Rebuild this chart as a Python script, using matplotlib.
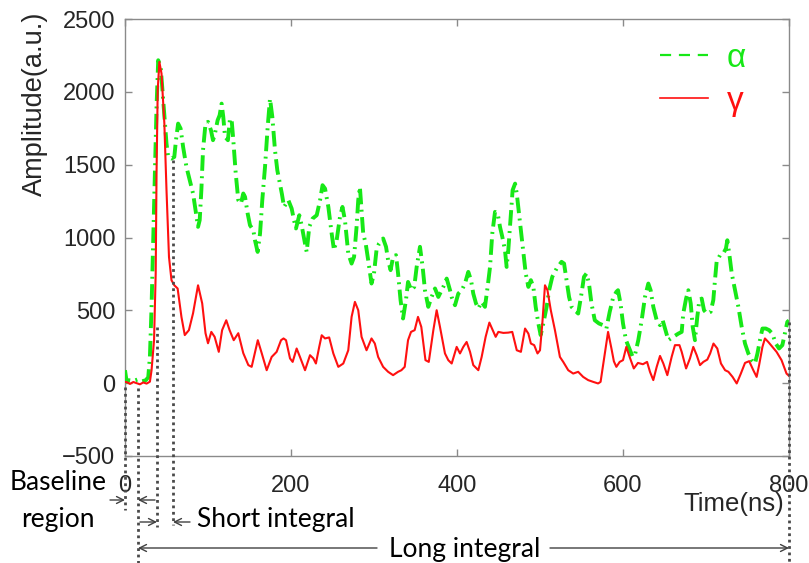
import matplotlib
matplotlib.use("Agg")
import matplotlib.pyplot as plt
from matplotlib.lines import Line2D

# ---------------- data ----------------
gamma_t = [0, 3, 6, 10, 14, 18, 22, 26, 30, 32, 35, 37, 38, 39.4, 41.4, 44, 47.4, 50, 53, 56,
           59.4, 63.4, 68, 72, 77, 82, 88, 93, 97, 100, 104, 108, 113, 117, 122, 126, 131, 136.5, 142.5, 148.6,
           152.6, 160, 164.7, 170.7, 176.7, 182.7, 188, 191, 194, 198.8, 202, 206.8, 210.8, 216.9, 222.9, 226.9, 230, 234, 237, 241,
           246, 251, 257, 263, 269, 273, 277, 281, 285, 291, 297, 301, 305, 311, 317, 323, 329, 333, 337, 341,
           344.6, 349, 353, 357, 362, 366, 371.5, 375.5, 379.5, 385.5, 389.5, 393.6, 399.6, 403.6, 407.6, 411.6, 415.7, 419.6, 425.7, 429.7,
           434.5, 439, 443, 446.6, 449.8, 455.8, 461.8, 466.6, 472, 477, 482, 486, 489, 493, 497, 500, 502.8, 506, 509, 513,
           518, 524, 528, 534, 540, 546, 552, 558, 564, 570, 573, 577.5, 582, 586, 589, 592, 596, 600, 604, 608,
           613, 618, 624, 629, 632.5, 636.5, 640.6, 644.6, 648.6, 653.4, 658.6, 662.6, 668, 670.7, 676, 680.7, 684.7, 688.8, 692.8, 696.8,
           701.6, 705, 709, 713.6, 718, 723, 727, 732, 737, 742, 747, 752, 757, 761, 764, 768, 771, 775, 780, 785,
           791, 797, 800]
gamma_v = [9, 5, -5, 8, 0, -8, 5, -3, 10, 89, 295, 755, 1440, 2010, 2205, 2125, 1783, 1325, 866, 707,
           672, 650, 455, 330, 364, 480, 672, 548, 343, 274, 352, 318, 215, 364, 432, 364, 295, 343, 206, 124,
           112, 295, 206, 89, 180, 215, 295, 307, 295, 170, 146, 238, 180, 89, 192, 170, 135, 249, 329, 307,
           314, 204, 112, 135, 226, 455, 558, 501, 318, 226, 307, 272, 180, 112, 78, 55, 78, 89, 112, 295,
           352, 364, 455, 386, 158, 146, 364, 501, 386, 204, 158, 135, 249, 204, 249, 283, 215, 124, 89, 180,
           318, 416, 364, 318, 352, 345, 347, 352, 226, 215, 375, 340, 272, 261, 204, 226, 410, 672, 638, 501,
           364, 180, 146, 89, 66, 78, 43, 21, 9, -2, 9, 180, 352, 240, 150, 112, 146, 158, 249, 180,
           101, 139, 130, 146, 78, 21, 112, 187, 135, 55, 180, 261, 261, 215, 101, 170, 249, 192, 124, 146,
           162, 204, 272, 238, 135, 89, 78, 43, -2, 66, 139, 151, 89, 43, 124, 249, 307, 283, 249, 215,
           158, 66, 50]

alpha_t = [0, 2, 5, 10, 15, 20, 25, 28, 30, 32, 34, 36, 38, 40, 43, 46, 48, 50, 52, 56,
           59.4, 61.4, 64, 67, 70, 74, 78, 82, 85, 88, 90, 92, 94, 97, 100, 103.6, 106, 108, 111.6, 114,
           116.4, 118.4, 120.5, 124, 126.5, 128.5, 130.5, 133.4, 136.5, 139.7, 142.5, 144.6, 147.8, 150.6, 154.6, 156.6, 159.8, 162.7, 165.4, 168.7,
           171.9, 174.7, 177.5, 180.7, 183.5, 186.7, 189, 191.6, 196.8, 200.8, 203.6, 206, 210, 212.8, 216.9, 218.9, 222, 226, 231, 235,
           238, 241, 245, 249, 251.8, 255, 259, 262, 265, 269, 273, 276, 279, 281, 283, 285, 287, 290, 293, 297,
           300, 303, 306, 311, 314.5, 317, 320, 323, 326.5, 329, 332, 335, 338.5, 341, 345, 348.5, 351.4, 355.4, 358.6, 361.4,
           365.4, 369.4, 373.5, 377.5, 383.5, 387.6, 391.6, 393.5, 397.6, 401.6, 405.7, 409.6, 413.6, 416.9, 419.6, 422.9, 425.7, 429.7, 433.7, 436.9,
           439.8, 442.5, 445.8, 449, 451.8, 454.6, 457.8, 459.8, 461.8, 464.7, 467, 470, 472, 474.7, 477, 480, 482.8, 486, 489, 492,
           494.8, 498, 500.8, 504, 508, 511, 514.8, 520, 526, 529, 532, 535, 538, 542, 546, 550, 553, 556, 559, 562,
           566, 571, 576, 580, 584, 588, 592, 594, 597, 600, 603.6, 607.6, 611.7, 614.8, 618.4, 622.5, 626.5, 630.5, 633.3, 636.5,
           640.6, 644.6, 647.8, 650.6, 654.6, 660.6, 666.6, 670.7, 672.6, 676, 678.7, 681.6, 684, 686.7, 689.5, 692, 694.8, 697.6, 700.8, 705.6,
           708.8, 710.8, 712.8, 716.9, 720.8, 724, 725.7, 728, 731, 735, 739, 743, 747, 751, 755, 759, 762, 765, 768, 772,
           776, 780, 784, 788, 792, 795, 798, 800]
alpha_v = [89, 10, 20, 15, 25, 12, 20, 40, 180, 524, 981, 1440, 1897, 2217, 2170, 1942, 1782, 1645, 1553, 1542,
           1553, 1668, 1782, 1748, 1622, 1485, 1393, 1302, 1187, 1073, 1119, 1325, 1600, 1782, 1794, 1736, 1668, 1702, 1805, 1839,
           1919, 1828, 1691, 1668, 1817, 1805, 1668, 1440, 1256, 1233, 1302, 1279, 1164, 1084, 1050, 981, 901, 1027, 1256, 1485,
           1759, 1953, 1828, 1600, 1462, 1370, 1300, 1210, 1256, 1199, 1119, 1062, 1153, 1084, 958, 901, 1073, 1130, 1153, 1256,
           1359, 1336, 1210, 1027, 913, 981, 1141, 1210, 1119, 890, 821, 867, 1073, 1256, 1347, 1187, 1027, 958, 844, 684,
           753, 913, 958, 993, 936, 844, 776, 867, 879, 753, 570, 444, 570, 695, 638, 661, 798, 936, 798, 638,
           524, 592, 650, 592, 661, 718, 638, 592, 535, 615, 638, 684, 764, 707, 615, 547, 513, 558, 524, 661,
           798, 1027, 1176, 1164, 1073, 1004, 913, 798, 913, 1141, 1325, 1370, 1302, 1164, 1050, 890, 753, 661, 707, 661,
           524, 410, 330, 410, 524, 638, 730, 787, 833, 821, 707, 592, 524, 501, 478, 615, 730, 753, 684, 547,
           432, 410, 398, 375, 490, 585, 627, 638, 547, 410, 295, 238, 180, 204, 295, 432, 592, 684, 638, 524,
           432, 398, 432, 375, 295, 318, 340, 352, 478, 581, 638, 547, 386, 295, 455, 570, 581, 501, 478, 490,
           570, 707, 833, 879, 890, 924, 981, 890, 753, 638, 524, 386, 272, 204, 158, 135, 204, 295, 375, 375,
           364, 340, 272, 238, 261, 340, 421, 430]

x_ticks = [0, 200, 400, 600, 800]
y_ticks = [-500, 0, 500, 1000, 1500, 2000, 2500]

# integration-window markers (time in ns, top of dotted line, bottom of dotted line)
marker_t = [0, 15.7, 39, 58, 800]
marker_top = [-27, -35, 384, 1530, 420]
marker_bottom = [-872, -1235, -988, -975, -1235]

# ---------------- figure ----------------
W, H = 809, 563
fig = plt.figure(figsize=(W / 100, H / 100), dpi=100)
ax = fig.add_axes([125 / W, 1 - 456 / H, (789 - 125) / W, (456 - 19) / H])

green = '#17e817'
red = '#ff1010'
frame = '#8a8a8a'
tickfont = 'Liberation Sans'
annfont = 'Lato'

ax.plot(alpha_t, alpha_v, color=green, lw=2.8, linestyle=(0, (4.0, 1.4, 0.5, 1.4)),
        dash_capstyle='butt', zorder=3)
ax.plot(gamma_t, gamma_v, color=red, lw=1.5, zorder=4)

for t, top, bot in zip(marker_t, marker_top, marker_bottom):
    ax.plot([t, t], [top, bot], color='#4a4a4a', lw=2.0, linestyle=(0, (1, 1.3)),
            clip_on=False, zorder=5)

ax.set_xlim(0, 800)
ax.set_ylim(-500, 2500)
ax.set_xticks(x_ticks)
ax.set_yticks(y_ticks)
ax.tick_params(direction='in', length=5, width=1, color=frame, top=True, right=True,
               labelsize=17, labelcolor='#262626')
ax.tick_params(axis='x', pad=14)
ax.tick_params(axis='y', pad=7)
for lab in ax.get_xticklabels() + ax.get_yticklabels():
    lab.set_fontfamily(tickfont)
for s in ax.spines.values():
    s.set_color(frame)
    s.set_linewidth(1.0)

ax.set_ylabel('Amplitude(a.u.)', fontsize=19.5, family=tickfont, color='#262626')
ax.yaxis.set_label_coords(-0.116, 0.805)

def fx(px):
    return px / W

def fy(py):
    return 1 - py / H

fig.text(fx(784), fy(504), 'Time(ns)', ha='right', va='center', fontsize=18.5,
         family=tickfont, color='#262626')

# legend
h_alpha = Line2D([], [], color=green, lw=1.6, linestyle=(0, (5, 3.5)))
h_gamma = Line2D([], [], color=red, lw=1.2)
leg = ax.legend([h_alpha, h_gamma], ['α', 'γ'], loc='upper left',
                bbox_to_anchor=(fx(630), fy(13)), bbox_transform=fig.transFigure,
                frameon=False, handlelength=1.45, handletextpad=0.55, labelspacing=0.35,
                prop={'family': tickfont, 'size': 24})
for txt, c in zip(leg.get_texts(), [green, red]):
    txt.set_color(c)

# annotations
fig.text(fx(10), fy(482), 'Baseline', ha='left', va='center', fontsize=19, family=annfont)
fig.text(fx(21), fy(519), 'region', ha='left', va='center', fontsize=19, family=annfont)
fig.text(fx(197), fy(520), 'Short integral', ha='left', va='center', fontsize=19, family=annfont)
fig.text(fx(389), fy(550), 'Long integral', ha='left', va='center', fontsize=19, family=annfont)

arrows = [((110, 500), (125, 500)), ((155, 500), (138, 500)),
          ((140, 522), (157, 522)), ((190, 522), (173, 522)),
          ((377, 548), (138, 548)), ((550, 548), (789, 548))]
for (x0, y0), (x1, y1) in arrows:
    fig.add_artist(matplotlib.patches.FancyArrowPatch(
        (fx(x0), fy(y0)), (fx(x1), fy(y1)), transform=fig.transFigure,
        arrowstyle='->,head_length=5,head_width=2.5', color='#404040', lw=1.0,
        shrinkA=0, shrinkB=0))

fig.savefig('out.png', dpi=100)
